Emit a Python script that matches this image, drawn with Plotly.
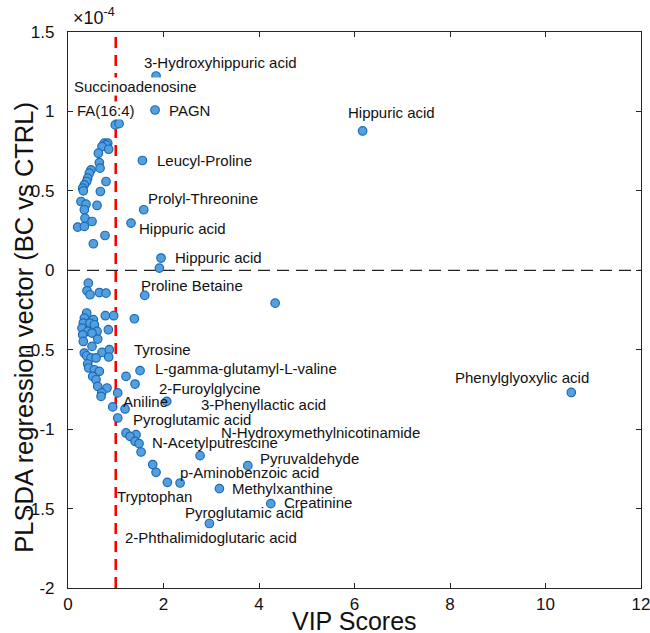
import plotly.graph_objects as go

# ---- data (coefficients shown in units of 1e-4) ----
vip_scores = [
    1.844, 1.823, 0.99, 1.07, 6.17,
    0.761, 0.832, 0.796, 0.712, 0.852, 0.636, 0.657, 0.671, 0.482, 0.447,
    0.412, 0.391, 0.342, 0.307, 0.321, 0.796, 0.678, 0.272, 0.377, 0.608,
    0.342, 0.356, 0.503, 0.202, 0.342, 0.775, 0.531,
    1.558, 1.586, 1.320, 1.949, 1.914,
    0.426, 0.398, 0.461, 0.657, 0.796, 1.607, 4.338,
    0.391, 0.342, 0.531, 0.321, 0.461, 0.552, 0.782, 0.957, 1.390, 0.293,
    0.412, 0.608, 0.503, 0.845, 0.307, 0.622, 0.321, 0.503, 0.712, 0.866,
    0.342, 0.391, 0.482, 0.587, 0.852, 0.412, 0.433, 0.552, 0.657, 1.509,
    0.517, 1.215, 0.587, 0.622, 0.817, 1.404, 0.706, 0.692, 1.041, 0.936,
    1.195, 1.041,
    2.068,
    1.215, 1.425, 1.299, 1.404, 1.488, 1.530, 2.766, 3.765, 1.774, 1.844,
    2.081, 2.347, 3.171, 4.247, 2.961,
    10.54,
]
regression_coef = [
    1.223, 1.009, 0.915, 0.923, 0.877,
    0.800, 0.800, 0.789, 0.779, 0.762, 0.737, 0.678, 0.643, 0.632, 0.611,
    0.580, 0.559, 0.538, 0.517, 0.500, 0.559, 0.496, 0.433, 0.416, 0.408,
    0.381, 0.328, 0.307, 0.272, 0.276, 0.219, 0.167,
    0.691, 0.381, 0.297, 0.077, 0.014,
    -0.081, -0.129, -0.154, -0.140, -0.144, -0.158, -0.207,
    -0.269, -0.301, -0.311, -0.332, -0.332, -0.343, -0.286, -0.286, -0.305, -0.364,
    -0.385, -0.385, -0.395, -0.374, -0.406, -0.433, -0.448, -0.479, -0.517, -0.500,
    -0.521, -0.538, -0.552, -0.552, -0.546, -0.590, -0.615, -0.626, -0.636, -0.632,
    -0.668, -0.668, -0.689, -0.731, -0.741, -0.716, -0.772, -0.794, -0.772, -0.860,
    -0.873, -0.930,
    -0.825,
    -1.024, -1.035, -1.045, -1.077, -1.091, -1.144, -1.167, -1.230, -1.223, -1.272,
    -1.335, -1.339, -1.374, -1.469, -1.594,
    -0.769,
]

label_names = [
    "3-Hydroxyhippuric acid", "Succinoadenosine", "FA(16:4)", "PAGN",
    "Hippuric acid", "Leucyl-Proline", "Prolyl-Threonine", "Hippuric acid",
    "Hippuric acid", "Proline Betaine", "Tyrosine", "L-gamma-glutamyl-L-valine",
    "2-Furoylglycine", "Aniline", "3-Phenyllactic acid", "Pyroglutamic acid",
    "N-Hydroxymethylnicotinamide", "N-Acetylputrescine", "Pyruvaldehyde",
    "p-Aminobenzoic acid", "Methylxanthine", "Tryptophan", "Creatinine",
    "Pyroglutamic acid", "2-Phthalimidoglutaric acid", "Phenylglyoxylic acid",
]
label_x = [
    1.572, 0.098, 0.161, 2.096, 5.847, 1.844, 1.662, 1.473, 2.221, 1.509,
    1.356, 1.808, 1.880, 1.125, 2.766, 1.335, 3.185, 1.733, 4.009, 2.332,
    3.416, 1.006, 4.499, 2.431, 1.174, 8.089,
]
label_y = [
    1.311, 1.160, 1.009, 1.009, 0.991, 0.691, 0.450, 0.261, 0.081, -0.097,
    -0.496, -0.621, -0.745, -0.825, -0.846, -0.940, -1.024, -1.083, -1.187, -1.275,
    -1.374, -1.423, -1.464, -1.527, -1.684, -0.674,
]
label_bg = {"Succinoadenosine", "FA(16:4)"}

x_ticks = [0, 2, 4, 6, 8, 10, 12]
y_ticks = [1.5, 1, 0.5, 0, -0.5, -1, -1.5, -2]
y_tick_text = ["1.5", "1", "0.5", "0", "-0.5", "-1", "-1.5", "-2"]
vip_threshold = 1
x_title = "VIP Scores"
y_title = "PLSDA regression vector (BC vs CTRL)"

FONT = "Liberation Sans, Arial, Helvetica, sans-serif"
AX = "#262626"
TXT = "#111111"

fig = go.Figure()

# zero line
fig.add_trace(go.Scatter(
    x=[0, 12], y=[0, 0], mode="lines",
    line=dict(color="#222222", width=1.3, dash="12px,7px"),
    hoverinfo="skip", showlegend=False,
))
# VIP threshold line
fig.add_trace(go.Scatter(
    x=[vip_threshold, vip_threshold], y=[-2, 1.5], mode="lines",
    line=dict(color="#ff0000", width=2.6, dash="11px,7px"),
    hoverinfo="skip", showlegend=False,
))
# points
fig.add_trace(go.Scatter(
    x=vip_scores, y=regression_coef, mode="markers",
    marker=dict(size=8.5, color="rgb(84,160,222)",
                line=dict(color="rgb(25,105,185)", width=1.2)),
    showlegend=False,
))

for name, lx, ly in zip(label_names, label_x, label_y):
    fig.add_annotation(
        x=lx, y=ly, xref="x", yref="y", text=name, showarrow=False,
        xanchor="left", yanchor="middle",
        font=dict(family=FONT, size=15, color=TXT),
        bgcolor="white" if name in label_bg else "rgba(0,0,0,0)",
        borderpad=0,
    )

# exponent marker
fig.add_annotation(
    x=0.006, y=1.0, xref="paper", yref="paper", yshift=2,
    text="×10<sup>-4</sup>", showarrow=False,
    xanchor="left", yanchor="bottom",
    font=dict(family=FONT, size=18, color=TXT),
)
# axis titles
fig.add_annotation(
    x=0.5, y=-0.0594, xref="paper", yref="paper", text=x_title,
    showarrow=False, xanchor="center", yanchor="middle",
    font=dict(family=FONT, size=25, color=TXT),
)
fig.add_annotation(
    x=-0.0768, y=0.47, xref="paper", yref="paper", text=y_title,
    showarrow=False, xanchor="center", yanchor="middle", textangle=-90,
    font=dict(family=FONT, size=25.5, color=TXT),
)

fig.update_layout(
    width=650, height=633,
    margin=dict(l=68, r=9, t=32, b=45),
    paper_bgcolor="white", plot_bgcolor="white",
    font=dict(family=FONT, color=TXT),
    xaxis=dict(
        range=[0, 12], tickvals=x_ticks, ticks="inside", ticklen=5,
        tickcolor=AX, tickwidth=1, showline=True, linecolor=AX, linewidth=1.2,
        mirror="ticks", showgrid=False, zeroline=False, automargin=False,
        ticklabelstandoff=0, ticklabeloverflow="allow",
        tickfont=dict(family=FONT, size=17, color=TXT),
    ),
    yaxis=dict(
        range=[-2, 1.5], tickvals=y_ticks, ticktext=y_tick_text, ticks="inside",
        ticklen=5, tickcolor=AX, tickwidth=1, showline=True, linecolor=AX,
        linewidth=1.2, mirror="ticks", showgrid=False, zeroline=False,
        automargin=False, ticklabelstandoff=9, ticklabeloverflow="allow",
        tickfont=dict(family=FONT, size=17, color=TXT),
    ),
)

fig.write_html("out.html")
